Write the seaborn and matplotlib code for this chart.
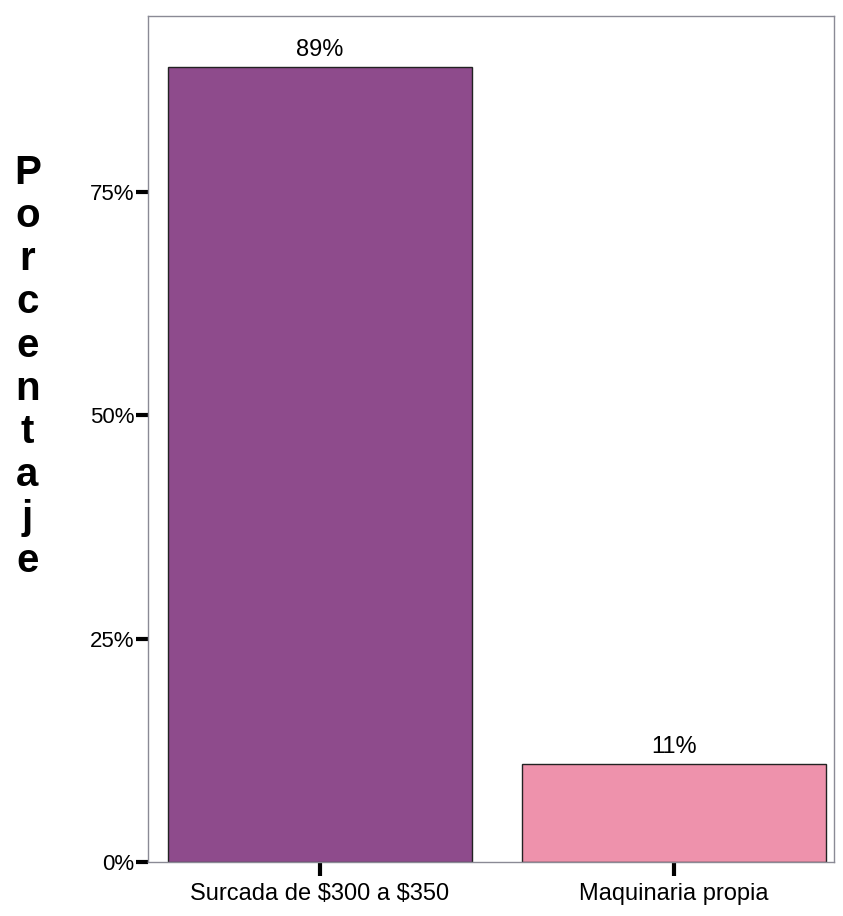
import matplotlib
matplotlib.use("Agg")
import matplotlib.pyplot as plt
import seaborn as sns
import pandas as pd

categories = ["Surcada de \\$300 a \\$350", "Maquinaria propia"]
percentages = [89, 11]
bar_colors = ["#8E4B8C", "#EE92AC"]
y_ticks = [0, 25, 50, 75]
y_tick_labels = ["0%", "25%", "50%", "75%"]

sns.set_theme(style="white")
plt.rcParams["font.family"] = ["Liberation Sans", "DejaVu Sans"]
plt.rcParams["text.color"] = "black"
plt.rcParams["xtick.color"] = "black"
plt.rcParams["ytick.color"] = "black"

df = pd.DataFrame({"categoria": categories, "porcentaje": percentages})

fig = plt.figure(figsize=(8.43, 9.16), dpi=100)
ax = fig.add_axes([148 / 843, 1 - 862 / 916, (834 - 148) / 843, (862 - 16) / 916])

sns.barplot(data=df, x="categoria", y="porcentaje", hue="categoria",
            palette=bar_colors, order=categories, hue_order=categories,
            width=0.86, edgecolor="#222222", linewidth=1.0, legend=False,
            saturation=1, ax=ax)

for cont, val in zip(ax.containers, percentages):
    ax.bar_label(cont, labels=[f"{val}%"], padding=4, fontsize=17, color="black")

ax.set_xlim(-0.486, 1.453)
ax.set_ylim(0, 94.7)
ax.set_yticks(y_ticks)
ax.set_yticklabels(y_tick_labels, fontsize=16)
ax.tick_params(axis="y", length=9, width=3, color="black", pad=1, left=True,
               labelcolor="black")
ax.tick_params(axis="x", length=10, width=3, color="black", pad=5, bottom=True,
               labelsize=17, labelcolor="black")
ax.set_xlabel("")

for side in ["left", "top", "right", "bottom"]:
    ax.spines[side].set_visible(True)
    ax.spines[side].set_color("#8a8a95")
    ax.spines[side].set_linewidth(1.0)

ax.set_ylabel("\n".join("Porcentaje"), rotation=0, fontsize=29, fontweight="bold",
              linespacing=1.17, va="center", ha="center", color="black")
ax.yaxis.set_label_coords(-0.176, 0.585)

fig.savefig("out.png", dpi=100)
